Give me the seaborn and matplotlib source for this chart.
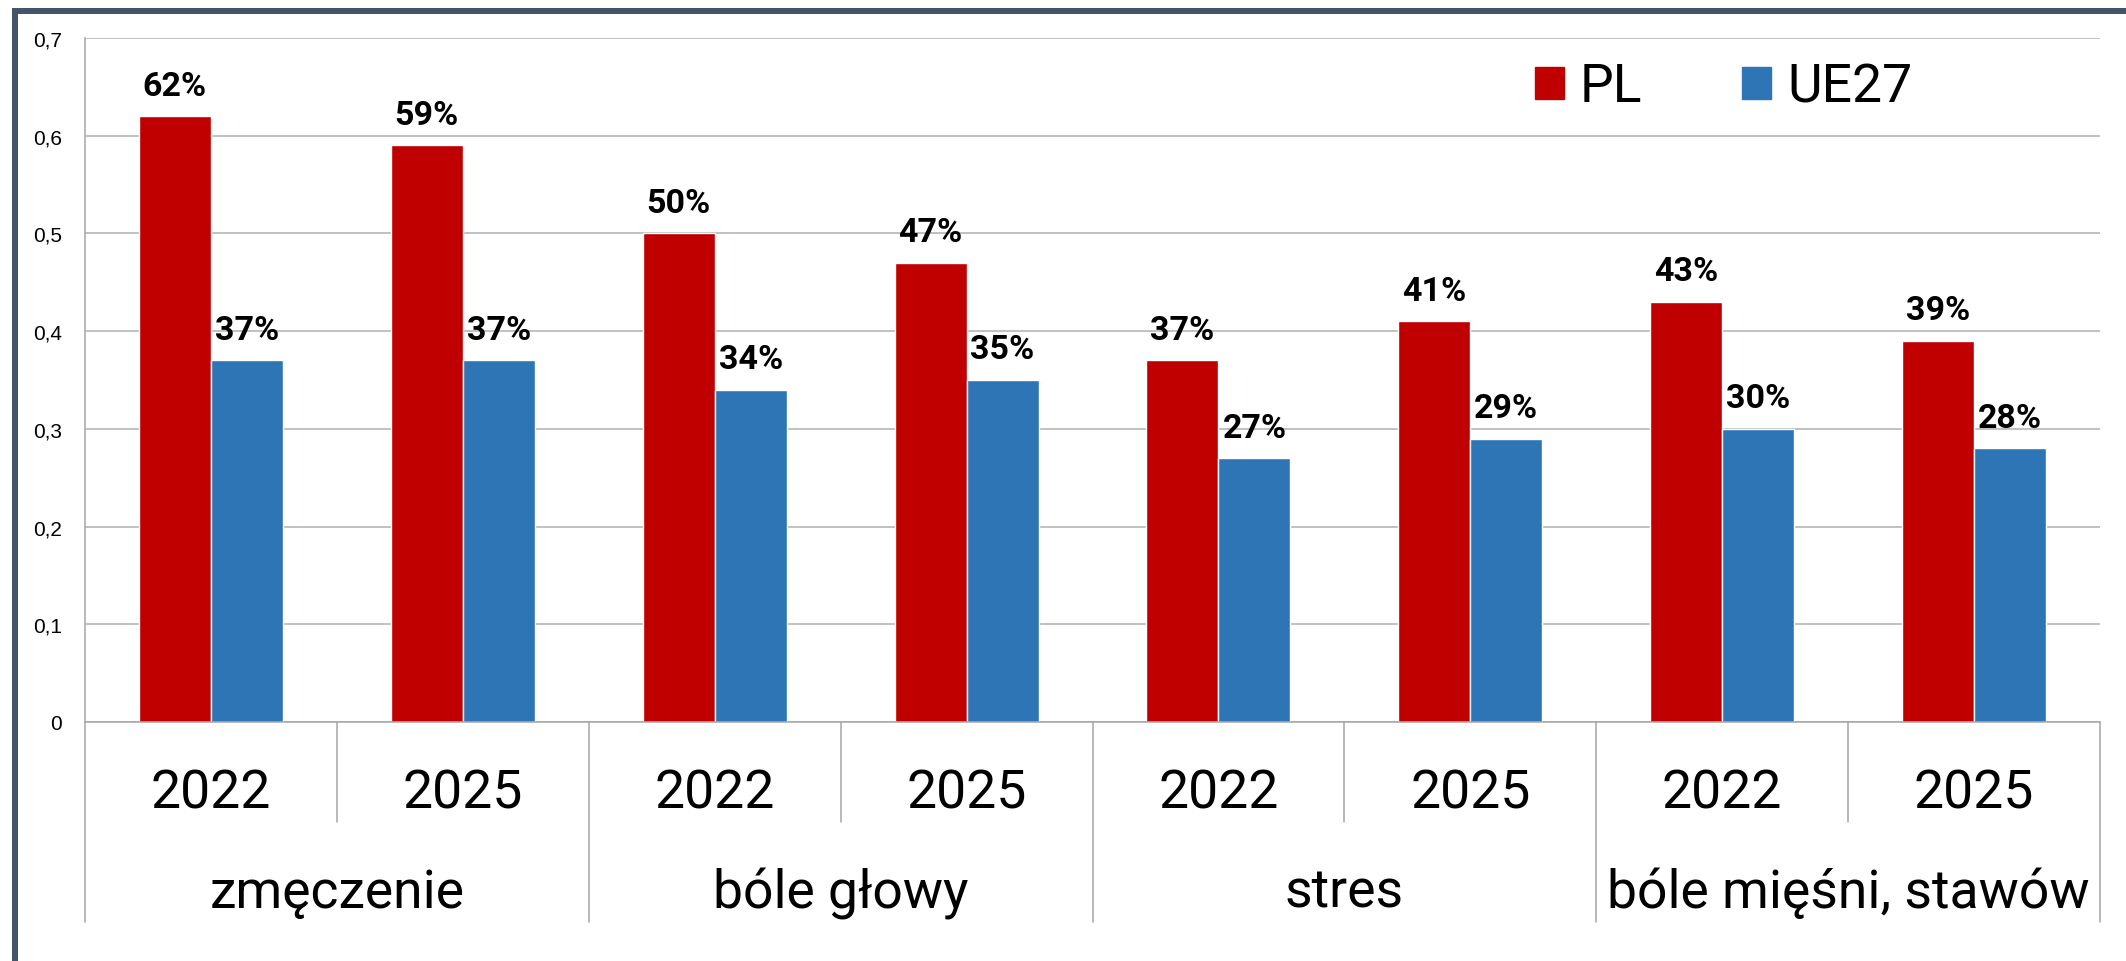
import numpy as np
import matplotlib.pyplot as plt
import matplotlib.transforms as mtransforms
from matplotlib.patches import Patch, Rectangle
import pandas as pd
import seaborn as sns

# data
groups = ["zmęczenie", "bóle głowy", "stres", "bóle mięśni, stawów"]
years = ["2022", "2025"]
series = ["PL", "UE27"]
pl = [0.62, 0.59, 0.50, 0.47, 0.37, 0.41, 0.43, 0.39]
ue27 = [0.37, 0.37, 0.34, 0.35, 0.27, 0.29, 0.30, 0.28]
yticks = [0, 0.1, 0.2, 0.3, 0.4, 0.5, 0.6, 0.7]
ytick_labels = ["0", "0,1", "0,2", "0,3", "0,4", "0,5", "0,6", "0,7"]
colors = {"PL": "#C00000", "UE27": "#2E75B6"}

keys = [g + " " + y for g in groups for y in years]
df = pd.DataFrame({
    "key": keys * 2,
    "series": ["PL"] * len(keys) + ["UE27"] * len(keys),
    "value": pl + ue27,
})

sns.set_style("white")
plt.rcParams['font.family'] = ['Roboto', 'DejaVu Sans']
plt.rcParams['text.color'] = 'black'
plt.rcParams['ytick.labelcolor'] = 'black'

W, H = 2126, 962
fig = plt.figure(figsize=(W / 100, H / 100), dpi=100)
ax = fig.add_axes([85 / W, 1 - 723 / H, (2100 - 85) / W, (723 - 39) / H])

sns.barplot(data=df, x="key", y="value", hue="series", order=keys,
            hue_order=series, palette=colors, width=0.572, saturation=1,
            errorbar=None, legend=False, ax=ax)

ax.set_xlim(-0.5, len(keys) - 0.5)
ax.set_ylim(0, 0.7)
ax.set_xticks([])
ax.set_xlabel("")
ax.set_ylabel("")
ax.set_yticks(yticks)
ax.set_yticklabels(ytick_labels, fontsize=15, family="Liberation Sans", color="black")
ax.tick_params(axis="y", length=5.8, width=1.1, color="#A6A6A6", pad=10.5)
ax.yaxis.grid(True, color="#B0B0B0", lw=1.1)
ax.set_axisbelow(True)
for s in ["top", "right"]:
    ax.spines[s].set_visible(False)
for s in ["left", "bottom"]:
    ax.spines[s].set_color("#A6A6A6")
    ax.spines[s].set_linewidth(1.1)

# value labels
for cont, vals in zip(ax.containers, [pl, ue27]):
    for bar, v in zip(cont, vals):
        ax.annotate(f"{round(v * 100)}%", (bar.get_x() + bar.get_width() / 2, v),
                    xytext=(0, 15.5), textcoords="offset points", color="black",
                    ha="center", va="baseline", fontsize=24.5, fontweight="bold")

# two-level category axis
trans = mtransforms.blended_transform_factory(ax.transData, fig.transFigure)
for i, k in enumerate(keys):
    ax.text(i, 1 - 809 / H, years[i % 2], ha="center", va="baseline",
            fontsize=38.5, color="black", transform=trans)
for j, g in enumerate(groups):
    ax.text(2 * j + 0.5, 1 - 908 / H, g, ha="center", va="baseline",
            fontsize=38.5, color="black", transform=trans)
for x in [0.5, 2.5, 4.5, 6.5]:
    ax.plot([x, x], [1 - 723 / H, 1 - 823 / H], color="#A6A6A6", lw=1.1,
            transform=trans, clip_on=False)
for x in [-0.5, 1.5, 3.5, 5.5, 7.5]:
    ax.plot([x, x], [1 - 723 / H, 1 - 923 / H], color="#A6A6A6", lw=1.1,
            transform=trans, clip_on=False)

# legend
handles = [Patch(color=colors[s]) for s in series]
leg = fig.legend(handles, series, loc="center left", bbox_to_anchor=(1535 / W, 1 - 88 / H),
                 frameon=False, ncol=2, fontsize=38.5, handlelength=0.54, handleheight=0.54,
                 handletextpad=0.3, columnspacing=1.87, borderpad=0, borderaxespad=0)
for t in leg.get_texts():
    t.set_color("black")

# frame (left and top edges)
frame_col = "#44546A"
fig.add_artist(Rectangle((12 / W, 0), 6 / W, 1 - 9 / H, transform=fig.transFigure,
                         color=frame_col, lw=0))
fig.add_artist(Rectangle((12 / W, 1 - 15 / H), 1 - 12 / W, 6 / H, transform=fig.transFigure,
                         color=frame_col, lw=0))

fig.savefig("out.png", dpi=100)
